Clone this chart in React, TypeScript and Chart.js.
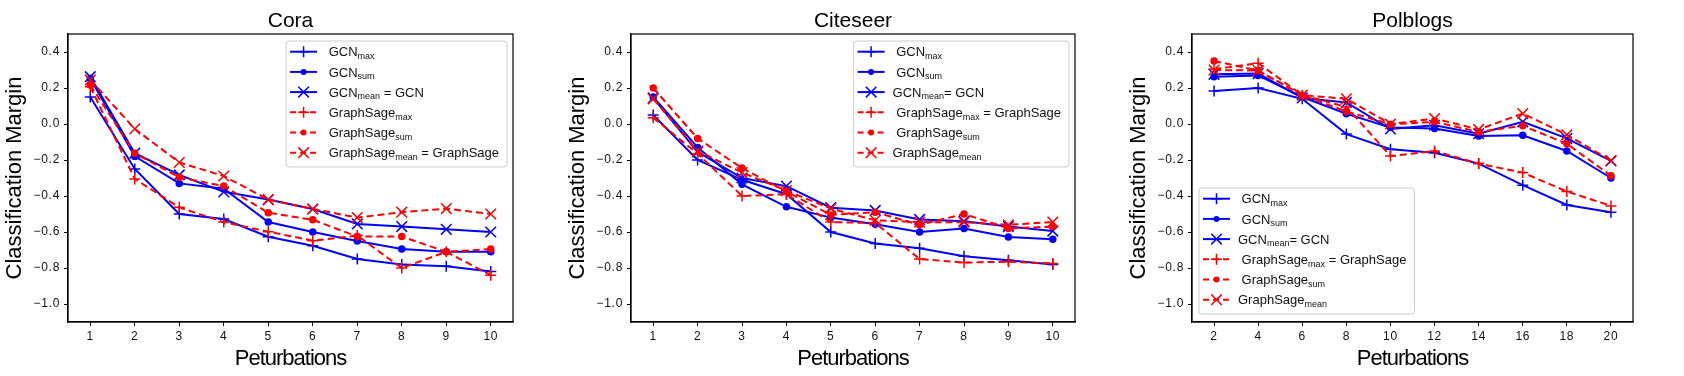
import React, { useEffect, useRef } from "react";
import { Chart, registerables } from "chart.js";
Chart.register(...registerables);

const BLUE = "#0000ff";
const RED = "#ff0000";
const FONT = "'Liberation Sans', Arial, Helvetica, sans-serif";

const Y_TICKS = [-1.0, -0.8, -0.6, -0.4, -0.2, 0.0, 0.2, 0.4];

// Cora
const CORA_X = [1, 2, 3, 4, 5, 6, 7, 8, 9, 10];
const CORA_GCN_MAX = [0.15, -0.25, -0.5, -0.528, -0.626, -0.676, -0.75, -0.78, -0.79, -0.82];
const CORA_GCN_SUM = [0.253, -0.18, -0.33, -0.36, -0.545, -0.6, -0.65, -0.695, -0.71, -0.71];
const CORA_GCN_MEAN = [0.263, -0.162, -0.283, -0.377, -0.42, -0.472, -0.555, -0.57, -0.585, -0.6];
const CORA_SAGE_MAX = [0.207, -0.305, -0.463, -0.545, -0.598, -0.648, -0.62, -0.8, -0.71, -0.84];
const CORA_SAGE_SUM = [0.217, -0.162, -0.296, -0.345, -0.493, -0.532, -0.625, -0.625, -0.71, -0.695];
const CORA_SAGE_MEAN = [0.245, -0.027, -0.214, -0.289, -0.42, -0.472, -0.52, -0.49, -0.47, -0.5];

// Citeseer
const CITE_X = [1, 2, 3, 4, 5, 6, 7, 8, 9, 10];
const CITE_GCN_MAX = [0.05, -0.2, -0.31, -0.39, -0.6, -0.664, -0.69, -0.735, -0.757, -0.78];
const CITE_GCN_SUM = [0.15, -0.13, -0.335, -0.46, -0.52, -0.557, -0.6, -0.58, -0.628, -0.64];
const CITE_GCN_MEAN = [0.145, -0.155, -0.3, -0.345, -0.465, -0.48, -0.53, -0.54, -0.57, -0.595];
const CITE_SAGE_MAX = [0.035, -0.165, -0.4, -0.39, -0.545, -0.55, -0.75, -0.77, -0.765, -0.775];
const CITE_SAGE_SUM = [0.2, -0.08, -0.245, -0.375, -0.505, -0.49, -0.56, -0.5, -0.58, -0.57];
const CITE_SAGE_MEAN = [0.14, -0.15, -0.27, -0.37, -0.47, -0.535, -0.545, -0.546, -0.56, -0.545];

// Polblogs
const POL_X = [2, 4, 6, 8, 10, 12, 14, 16, 18, 20];
const POL_GCN_MAX = [0.184, 0.2, 0.14, -0.056, -0.14, -0.16, -0.22, -0.34, -0.45, -0.49];
const POL_GCN_SUM = [0.263, 0.27, 0.15, 0.057, -0.02, -0.025, -0.067, -0.063, -0.15, -0.3];
const POL_GCN_MEAN = [0.276, 0.28, 0.145, 0.12, -0.028, -0.007, -0.054, 0.012, -0.08, -0.205];
const POL_SAGE_MAX = [0.305, 0.338, 0.16, 0.095, -0.178, -0.15, -0.22, -0.27, -0.375, -0.455];
const POL_SAGE_SUM = [0.35, 0.297, 0.16, 0.07, -0.002, 0.012, -0.044, -0.01, -0.11, -0.287];
const POL_SAGE_MEAN = [0.3, 0.297, 0.16, 0.14, 0.0, 0.03, -0.03, 0.058, -0.06, -0.203];

// legend labels: [leading, main, subscript, tail]
const LEGEND_CORA = [
  [" ", "GCN", "max", ""],
  [" ", "GCN", "sum", ""],
  [" ", "GCN", "mean", " = GCN"],
  [" ", "GraphSage", "max", ""],
  [" ", "GraphSage", "sum", ""],
  [" ", "GraphSage", "mean", " = GraphSage"],
];
const LEGEND_OTHER = [
  [" ", "GCN", "max", ""],
  [" ", "GCN", "sum", ""],
  ["", "GCN", "mean", "= GCN"],
  [" ", "GraphSage", "max", " = GraphSage"],
  [" ", "GraphSage", "sum", ""],
  ["", "GraphSage", "mean", ""],
];

type PlotCfg = {
  title: string;
  x: number[];
  series: number[][];
  xmin: number;
  xmax: number;
  xticks: number[];
  legend: string[][];
  legendLoc: "ur" | "ll";
  left: number;
  width: number;
  areaLeft: number;
  areaRight: number;
};

const STYLES = [
  { color: BLUE, dash: [], point: "cross", r: 5.5 },
  { color: BLUE, dash: [], point: "circle", r: 3 },
  { color: BLUE, dash: [], point: "crossRot", r: 7.5 },
  { color: RED, dash: [7, 4], point: "cross", r: 5.5 },
  { color: RED, dash: [7, 4], point: "circle", r: 3 },
  { color: RED, dash: [7, 4], point: "crossRot", r: 7.5 },
];

function drawMarker(ctx: CanvasRenderingContext2D, kind: string, x: number, y: number, color: string) {
  ctx.save();
  ctx.setLineDash([]);
  ctx.strokeStyle = color;
  ctx.fillStyle = color;
  ctx.lineWidth = 1.5;
  ctx.beginPath();
  if (kind === "cross") {
    ctx.moveTo(x - 5.5, y); ctx.lineTo(x + 5.5, y);
    ctx.moveTo(x, y - 5.5); ctx.lineTo(x, y + 5.5);
    ctx.stroke();
  } else if (kind === "crossRot") {
    ctx.moveTo(x - 5.3, y - 5.3); ctx.lineTo(x + 5.3, y + 5.3);
    ctx.moveTo(x - 5.3, y + 5.3); ctx.lineTo(x + 5.3, y - 5.3);
    ctx.stroke();
  } else {
    ctx.arc(x, y, 3, 0, Math.PI * 2);
    ctx.fill();
  }
  ctx.restore();
}

function decorPlugin(cfg: PlotCfg) {
  return {
    id: "decor",
    beforeDraw(chart: any) {
      chart.ctx.letterSpacing = "0.7px";
    },
    afterDraw(chart: any) {
      const ctx: CanvasRenderingContext2D = chart.ctx;
      const a = chart.chartArea;
      ctx.save();
      ctx.letterSpacing = "0px";
      // frame
      ctx.strokeStyle = "#000";
      ctx.lineWidth = 1.2;
      ctx.setLineDash([]);
      ctx.strokeRect(a.left, a.top, a.right - a.left, a.bottom - a.top);
      const cx = (a.left + a.right) / 2;
      // title
      ctx.fillStyle = "#000";
      ctx.textAlign = "center";
      ctx.textBaseline = "alphabetic";
      ctx.font = `21px ${FONT}`;
      ctx.fillText(cfg.title, cx, 27);
      // x label
      ctx.font = `22px ${FONT}`;
      ctx.letterSpacing = "-1px";
      ctx.fillText("Peturbations", cx, 365);
      ctx.letterSpacing = "0px";
      // y label
      ctx.save();
      ctx.translate(a.left - 47, (a.top + a.bottom) / 2);
      ctx.rotate(-Math.PI / 2);
      ctx.fillText("Classification Margin", 0, 0);
      ctx.restore();

      // legend
      const mainFont = `13px ${FONT}`;
      const subFont = `9px ${FONT}`;
      const widths = cfg.legend.map((l) => {
        ctx.font = mainFont;
        let w = ctx.measureText(l[0] + l[1]).width + ctx.measureText(l[3]).width;
        ctx.font = subFont;
        w += ctx.measureText(l[2]).width;
        return w;
      });
      const bw = 39 + Math.max(...widths) + 8;
      const bh = 126;
      let bx: number, by: number;
      if (cfg.legendLoc === "ur") {
        bx = a.right - 6 - bw;
        by = a.top + 7;
      } else {
        bx = a.left + 7;
        by = a.bottom - 8 - bh;
      }
      ctx.beginPath();
      (ctx as any).roundRect(bx, by, bw, bh, 3);
      ctx.fillStyle = "rgba(255,255,255,0.85)";
      ctx.fill();
      ctx.strokeStyle = "#cccccc";
      ctx.lineWidth = 1;
      ctx.stroke();
      cfg.legend.forEach((l, i) => {
        const st = STYLES[i];
        const ry = by + 10.7 + i * 20.2;
        ctx.save();
        ctx.strokeStyle = st.color;
        ctx.lineWidth = 2;
        ctx.setLineDash(st.dash.length ? [6, 4] : []);
        ctx.beginPath();
        ctx.moveTo(bx + 4, ry);
        ctx.lineTo(bx + 31, ry);
        ctx.stroke();
        ctx.restore();
        drawMarker(ctx, st.point, bx + 17.5, ry, st.color);
        ctx.fillStyle = "#111";
        ctx.textAlign = "left";
        ctx.textBaseline = "alphabetic";
        let tx = bx + 39;
        const base = ry + 4.7;
        ctx.font = mainFont;
        ctx.fillText(l[0] + l[1], tx, base);
        tx += ctx.measureText(l[0] + l[1]).width;
        ctx.font = subFont;
        ctx.fillText(l[2], tx, base + 2.5);
        tx += ctx.measureText(l[2]).width;
        ctx.font = mainFont;
        ctx.fillText(l[3], tx, base);
      });
      ctx.restore();
    },
  };
}

function Plot({ cfg }: { cfg: PlotCfg }) {
  const ref = useRef<HTMLCanvasElement | null>(null);
  useEffect(() => {
    if (!ref.current) return;
    const names = ["GCN max", "GCN sum", "GCN mean", "GraphSage max", "GraphSage sum", "GraphSage mean"];
    const datasets = cfg.series.map((s, i) => {
      const st = STYLES[i];
      return {
        label: names[i],
        data: s.map((v, j) => ({ x: cfg.x[j], y: v })),
        borderColor: st.color,
        backgroundColor: st.color,
        borderWidth: 2,
        borderDash: st.dash,
        pointStyle: st.point as any,
        pointRadius: st.r,
        pointBorderWidth: 1.5,
        pointBorderColor: st.color,
        pointBackgroundColor: st.color,
        tension: 0,
        fill: false,
        order: 6 - i,
      };
    });
    const tickFont = { family: FONT, size: 12 };
    const chart = new Chart(ref.current, {
      type: "line",
      data: { datasets },
      options: {
        animation: false,
        responsive: false,
        devicePixelRatio: 1,
        layout: { padding: { top: 34, left: 0, right: cfg.width - cfg.areaRight, bottom: 0 } },
        plugins: { legend: { display: false }, title: { display: false }, tooltip: { enabled: false } },
        scales: {
          x: {
            type: "linear",
            min: cfg.xmin,
            max: cfg.xmax,
            afterBuildTicks: (s: any) => {
              s.ticks = cfg.xticks.map((v) => ({ value: v }));
            },
            afterFit: (s: any) => {
              s.height = 54;
            },
            ticks: {
              autoSkip: false,
              maxRotation: 0,
              padding: 3,
              color: "#111",
              font: tickFont,
              callback: (v: any) => String(v),
            },
            grid: { drawOnChartArea: false, drawTicks: true, tickLength: 4, color: "#000", lineWidth: 1 },
            border: { display: true, color: "#000", width: 1.2 },
          },
          y: {
            type: "linear",
            min: -1.1,
            max: 0.5,
            afterBuildTicks: (s: any) => {
              s.ticks = Y_TICKS.map((v) => ({ value: v }));
            },
            afterFit: (s: any) => {
              s.width = cfg.areaLeft;
            },
            ticks: {
              autoSkip: false,
              padding: 4,
              color: "#111",
              font: tickFont,
              callback: (v: any) => {
                const n = Number(v);
                return n < -1e-9 ? "\u2212" + Math.abs(n).toFixed(1) : Math.abs(n).toFixed(1);
              },
            },
            grid: { drawOnChartArea: false, drawTicks: true, tickLength: 4, color: "#000", lineWidth: 1 },
            border: { display: true, color: "#000", width: 1.2 },
          },
        },
      },
      plugins: [decorPlugin(cfg)],
    } as any);
    return () => chart.destroy();
  }, [cfg]);
  return (
    <canvas
      ref={ref}
      width={cfg.width}
      height={376}
      style={{ position: "absolute", left: cfg.left, top: 0, width: cfg.width, height: 376 }}
    />
  );
}

const PLOTS: PlotCfg[] = [
  {
    title: "Cora",
    x: CORA_X,
    series: [CORA_GCN_MAX, CORA_GCN_SUM, CORA_GCN_MEAN, CORA_SAGE_MAX, CORA_SAGE_SUM, CORA_SAGE_MEAN],
    xmin: 0.5,
    xmax: 10.5,
    xticks: CORA_X,
    legend: LEGEND_CORA,
    legendLoc: "ur",
    left: 0,
    width: 560,
    areaLeft: 68,
    areaRight: 513,
  },
  {
    title: "Citeseer",
    x: CITE_X,
    series: [CITE_GCN_MAX, CITE_GCN_SUM, CITE_GCN_MEAN, CITE_SAGE_MAX, CITE_SAGE_SUM, CITE_SAGE_MEAN],
    xmin: 0.5,
    xmax: 10.5,
    xticks: CITE_X,
    legend: LEGEND_OTHER,
    legendLoc: "ur",
    left: 560,
    width: 560,
    areaLeft: 71,
    areaRight: 515,
  },
  {
    title: "Polblogs",
    x: POL_X,
    series: [POL_GCN_MAX, POL_GCN_SUM, POL_GCN_MEAN, POL_SAGE_MAX, POL_SAGE_SUM, POL_SAGE_MEAN],
    xmin: 1,
    xmax: 21,
    xticks: POL_X,
    legend: LEGEND_OTHER,
    legendLoc: "ll",
    left: 1120,
    width: 564,
    areaLeft: 72,
    areaRight: 513,
  },
];

export default function App() {
  return (
    <div style={{ position: "absolute", left: 0, top: 0, width: 1684, height: 376, background: "#fff", overflow: "hidden" }}>
      {PLOTS.map((p) => (
        <Plot key={p.title} cfg={p} />
      ))}
    </div>
  );
}
